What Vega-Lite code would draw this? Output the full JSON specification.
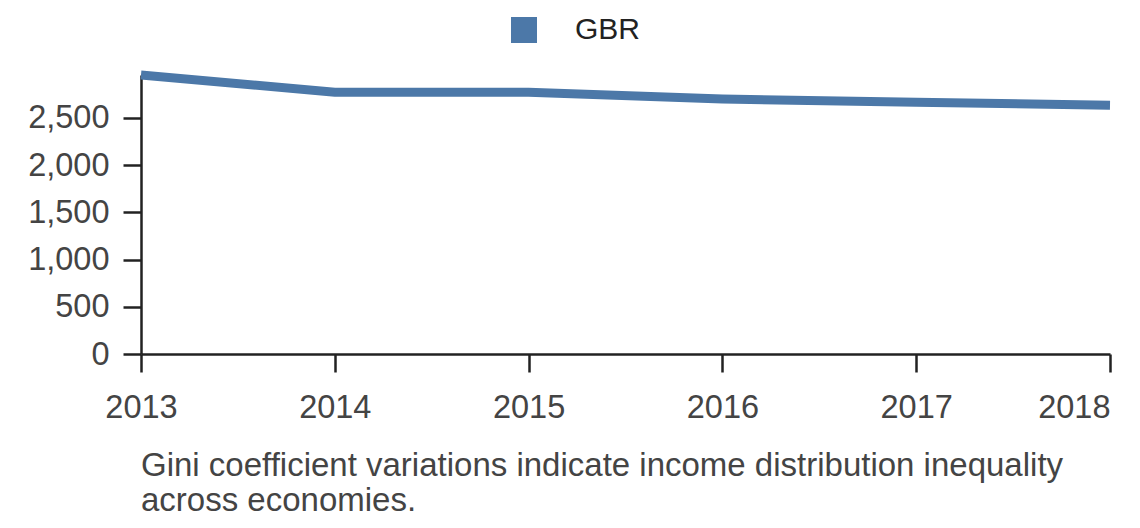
{
  "$schema": "https://vega.github.io/schema/vega-lite/v6.json",
  "autosize": "none",
  "width": 969,
  "height": 279,
  "padding": {"left": 141, "top": 75, "right": 30, "bottom": 174},
  "title": {
    "text": ["Gini coefficient variations indicate income distribution inequality", "across economies."],
    "orient": "bottom",
    "anchor": "start",
    "frame": "group",
    "offset": 26,
    "font": "Liberation Sans",
    "fontSize": 33,
    "fontWeight": "normal",
    "color": "#444444",
    "lineHeight": 35
  },
  "data": {
    "values": [
      {"year": "2013", "country": "GBR", "value": 2953},
      {"year": "2014", "country": "GBR", "value": 2771},
      {"year": "2015", "country": "GBR", "value": 2771},
      {"year": "2016", "country": "GBR", "value": 2699},
      {"year": "2017", "country": "GBR", "value": 2665},
      {"year": "2018", "country": "GBR", "value": 2633}
    ]
  },
  "mark": {"type": "line", "strokeWidth": 9},
  "encoding": {
    "x": {
      "field": "year",
      "type": "ordinal",
      "title": null,
      "scale": {"type": "point", "padding": 0},
      "axis": {
        "labelAngle": 0,
        "labelPadding": 19,
        "labelAlign": {"condition": {"test": "datum.value == '2018'", "value": "right"}, "value": "center"}
      }
    },
    "y": {
      "field": "value",
      "type": "quantitative",
      "title": null,
      "scale": {"nice": false, "zero": true},
      "axis": {"values": [0, 500, 1000, 1500, 2000, 2500], "format": ",d"}
    },
    "color": {
      "field": "country",
      "type": "nominal",
      "title": null,
      "scale": {"range": ["#4c78a8"]},
      "legend": {
        "orient": "none",
        "legendX": 368,
        "legendY": -60,
        "symbolType": "square",
        "symbolSize": 676,
        "symbolStrokeWidth": 0,
        "symbolOpacity": 1,
        "labelFontSize": 30,
        "labelFont": "Liberation Sans",
        "labelColor": "#222222",
        "labelOffset": 36,
        "padding": 0
      }
    }
  },
  "config": {
    "view": {"stroke": null},
    "axis": {
      "grid": false,
      "domainColor": "#222222",
      "domainWidth": 2.5,
      "tickColor": "#222222",
      "tickWidth": 2.5,
      "tickSize": 18,
      "labelFont": "Liberation Sans",
      "labelFontSize": 32.5,
      "labelColor": "#444444",
      "labelPadding": 14
    },
    "legend": {"symbolFillColor": "#4c78a8"}
  }
}
